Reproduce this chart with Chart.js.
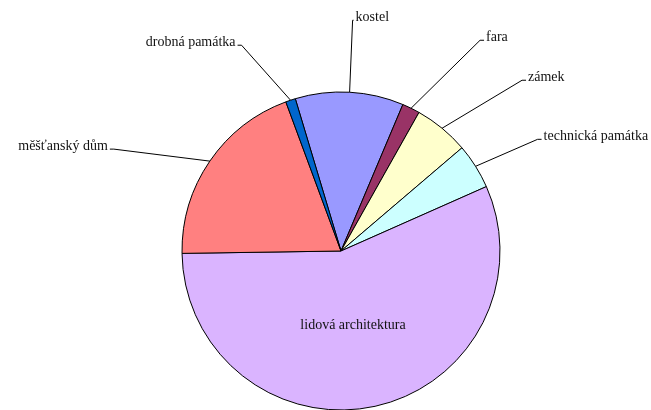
<!DOCTYPE html>
<html>
<head>
    <meta charset="UTF-8">
    <title>Památky podle typu</title>
    <script src="https://cdn.jsdelivr.net/npm/chart.js@4.4.1/dist/chart.umd.min.js"></script>
    <style>
        html, body { margin: 0; padding: 0; background: #fff; }
        #wrap { width: 651px; height: 410px; }
    </style>
</head>
<body>
    <div id="wrap"><canvas id="myChart" width="651" height="410"></canvas></div>

    <script>
        // data (share in %)
        var categories = ['kostel', 'fara', 'zámek', 'technická památka', 'lidová architektura', 'měšťanský dům', 'drobná památka'];
        var values = [11.0, 1.8, 5.6, 4.6, 56.4, 19.6, 1.0];
        var colors = ['#9999ff', '#993366', '#ffffcc', '#ccffff', '#dab4ff', '#ff8080', '#0066cc'];

        // label layout: where the leader line bends, relative to the slice edge (null = inside)
        var leaderOffsets = [[3, -72], [69, -68], [80, -48], [62, -27], null, [-96, -12], [-49, -55]];

        var labelPlugin = {
            id: 'leaderLabels',
            afterDatasetsDraw: function(chart) {
                var ctx = chart.ctx;
                var meta = chart.getDatasetMeta(0);
                ctx.save();
                ctx.font = '14px "Liberation Serif", "Times New Roman", serif';
                ctx.fillStyle = '#111';
                ctx.strokeStyle = '#000';
                ctx.lineWidth = 1;
                meta.data.forEach(function(arc, i) {
                    var p = arc.getProps(['x', 'y', 'startAngle', 'endAngle', 'outerRadius'], true);
                    var mid = (p.startAngle + p.endAngle) / 2;
                    var off = leaderOffsets[i];
                    if (!off) {
                        var r = p.outerRadius * 0.47;
                        ctx.textAlign = 'center';
                        ctx.textBaseline = 'middle';
                        ctx.fillText(categories[i], p.x + Math.cos(mid) * r - 4, p.y + Math.sin(mid) * r + 1);
                        return;
                    }
                    var ex = p.x + Math.cos(mid) * p.outerRadius;
                    var ey = p.y + Math.sin(mid) * p.outerRadius;
                    var bx = ex + off[0], by = ey + off[1];
                    var dir = off[0] >= 0 ? 1 : -1;
                    var stub = i === 0 ? 1 : 4;
                    ctx.beginPath();
                    ctx.moveTo(ex, ey);
                    ctx.lineTo(bx, by);
                    ctx.lineTo(bx + dir * stub, by);
                    ctx.stroke();
                    ctx.textAlign = dir > 0 ? 'left' : 'right';
                    ctx.textBaseline = 'alphabetic';
                    ctx.fillText(categories[i], bx + dir * (stub + 2), by + 1);
                });
                ctx.restore();
            }
        };

        new Chart('myChart', {
            type: 'pie',
            data: {
                labels: categories,
                datasets: [{
                    data: values,
                    backgroundColor: colors,
                    borderColor: '#000',
                    borderWidth: 1,
                    radius: 159
                }]
            },
            options: {
                responsive: false,
                animation: false,
                rotation: -16.7,
                layout: { padding: { top: 92, bottom: 0, left: 160, right: 129 } },
                plugins: {
                    legend: { display: false },
                    tooltip: { enabled: false }
                }
            },
            plugins: [labelPlugin]
        });
    </script>
</body>
</html>
